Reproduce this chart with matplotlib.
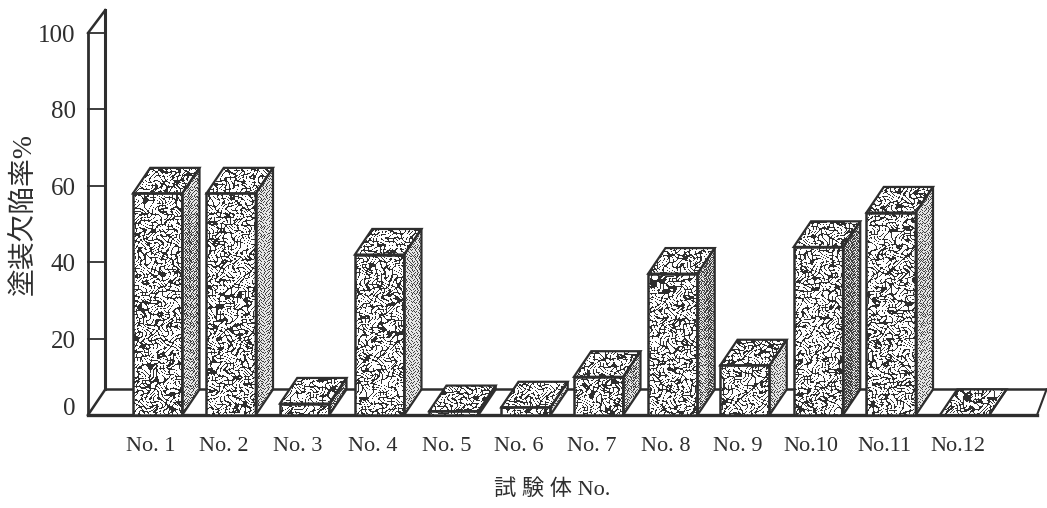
import matplotlib
matplotlib.use('Agg')
import matplotlib.pyplot as plt
import numpy as np
from matplotlib.patches import Polygon

plt.rcParams['font.family'] = ['Liberation Serif', 'Noto Sans CJK JP', 'DejaVu Sans']

# values
labels = ['No. 1', 'No. 2', 'No. 3', 'No. 4', 'No. 5', 'No. 6',
          'No. 7', 'No. 8', 'No. 9', 'No.10', 'No.11', 'No.12']
values = [58, 58, 3, 42, 1, 2, 10, 37, 13, 44, 53, 0]
bar_lefts = [0, 1, 2, 3.02, 4.03, 5.01, 6, 7.01, 7.99, 8.99, 9.98, 10.98]
yticks = [0, 20, 40, 60, 80, 100]

ink = '#2e2e2e'
w = 0.67     # front face width
dx = 0.235   # depth offset in x
dy = 6.7     # depth offset in y

fig = plt.figure(figsize=(10.47, 5.08), dpi=100)
# axes box = front of floor and wall: x 88..1037 px, y 415..33 px
ax = fig.add_axes([88 / 1047, 1 - 415 / 508, (1037 - 88) / 1047, (415 - 33) / 508])
x0, x1 = -0.612, 12.3
ax.set_xlim(x0, x1)
ax.set_ylim(0, 100)
ax.axis('off')

# print screen textures, one per pixel of the figure (sine warps, no data in here)
px, py = np.meshgrid(np.arange(1047.0), np.arange(508.0))
worm = (np.sin(0.8 * px + 2.4 * np.sin(0.43 * py) + 1.9 * np.sin(0.19 * px + 0.31 * py))
        + np.sin(0.8 * py + 2.4 * np.sin(0.37 * px) + 1.9 * np.sin(0.23 * py - 0.17 * px)))
worm_tex = np.where(np.abs(worm) < 0.5, 0.18, 1.0)
dots = np.sin(2.3 * px + 1.2 * np.sin(0.7 * py)) * np.sin(2.1 * py + 1.2 * np.sin(0.6 * px))
cloud = np.sin(0.05 * px + 0.4 * np.sin(0.03 * py))
dots_tex = np.where(dots > -0.1 - 0.25 * cloud, 0.9, 0.25)
fig_extent = (x0 - 88 / 73.5, x0 + 959 / 73.5, -93 * 100 / 382, 415 * 100 / 382)


def line(xs, ys, lw=1.8, z=1):
    ax.plot(xs, ys, color=ink, lw=lw, clip_on=False, zorder=z, solid_capstyle='projecting')


def face(points, tex, z, lw):
    patch = Polygon(points, closed=True, fc='none', ec=ink, lw=lw, zorder=z + 0.5, clip_on=False)
    ax.add_patch(patch)
    im = ax.imshow(tex, extent=fig_extent, origin='upper', aspect='auto', cmap='gray',
                   vmin=0, vmax=1, zorder=z, interpolation='bilinear')
    im.set_clip_path(patch)


# wall
line([x0, x0], [0, 100], 2.0)
line([x0 + dx, x0 + dx], [dy, 100 + 6], 2.2)
line([x0, x0 + dx], [100, 106], 1.8)
for t in yticks[1:]:
    line([x0, x0 + dx], [t, t], 1.3)
    ax.text(x0 - 0.17, t - 0.8, str(t), ha='right', va='center', fontsize=18,
            color=ink, clip_on=False)
ax.text(x0 - 0.17, 1.6, '0', ha='right', va='center', fontsize=18, color=ink, clip_on=False)
# floor
line([x0, x1], [0, 0], 2.4)
line([x0 + dx, x1 + 0.13], [dy, dy], 1.8)
line([x0, x0 + dx], [0, dy], 1.8)
line([x1, x1 + 0.13], [0, dy], 1.5)

for i, (left, v) in enumerate(zip(bar_lefts, values)):
    z = 3 + 2 * i
    r = left + w
    front = [(left, 0), (r, 0), (r, v), (left, v)]
    top = [(left, v), (r, v), (r + dx, v + dy), (left + dx, v + dy)]
    side = [(r, 0), (r + dx, dy), (r + dx, v + dy), (r, v)]
    face(side, dots_tex, z, 1.6)
    face(top, worm_tex, z, 1.6)
    if v > 0:
        face(front, worm_tex, z, 1.8)
    ax.text(left + 0.24, -8.3, labels[i], ha='center', va='center', fontsize=16,
            color=ink, clip_on=False)

ax.set_xlim(x0, x1)
ax.set_ylim(0, 100)

fig.text(552 / 1047, 1 - 490 / 508, '試 験 体 No.', ha='center', va='center', fontsize=16, color=ink)
fig.text(24 / 1047, 1 - 214 / 508, '塗装欠陥率%', ha='center', va='center', rotation=90,
         fontsize=20, color=ink)

fig.savefig('out.png', dpi=100, facecolor='white')
